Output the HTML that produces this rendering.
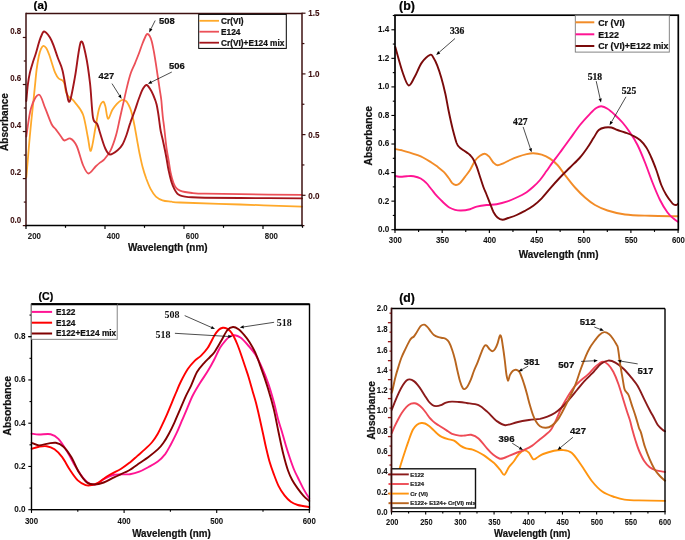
<!DOCTYPE html>
<html><head><meta charset="utf-8"><style>
html,body{margin:0;padding:0;background:#fff;}
body{width:685px;height:540px;overflow:hidden;font-family:"Liberation Sans",sans-serif;}
svg{display:block;will-change:transform;}
</style></head><body>
<svg width="685" height="540" viewBox="0 0 685 540">
<rect x="0" y="0" width="685" height="540" fill="#fff"/>
<path d="M26.3,177.5 C26.7,172.6 28.0,157.6 28.8,148.0 C29.6,138.4 30.6,128.1 31.4,120.0 C32.2,111.9 33.0,105.2 33.6,99.3 C34.2,93.4 34.6,89.4 35.1,84.4 C35.6,79.5 36.0,74.3 36.6,69.6 C37.2,64.9 38.1,59.8 38.8,56.3 C39.5,52.8 40.2,50.6 41.0,48.9 C41.8,47.2 42.4,46.0 43.3,45.9 C44.2,45.8 45.2,46.6 46.2,48.1 C47.2,49.6 48.2,52.2 49.2,54.8 C50.2,57.4 51.1,60.7 52.1,63.7 C53.1,66.7 54.0,70.1 55.1,72.6 C56.2,75.1 57.5,77.2 58.7,78.5 C59.9,79.8 61.4,79.5 62.4,80.4 C63.4,81.3 63.9,82.0 64.5,84.0 C65.1,86.0 65.4,90.3 66.1,92.4 C66.8,94.5 67.6,95.4 68.5,96.5 C69.4,97.6 70.6,97.9 71.7,98.9 C72.8,99.9 73.1,99.9 75.0,102.5 C76.9,105.1 80.9,108.8 83.0,114.5 C85.1,120.2 86.4,130.5 87.7,136.5 C89.0,142.5 89.6,152.3 90.9,150.7 C92.2,149.1 94.2,133.9 95.6,127.0 C96.9,120.0 97.8,113.2 99.0,109.0 C100.2,104.8 101.8,102.2 102.8,101.7 C103.8,101.2 104.4,103.2 105.3,106.0 C106.2,108.8 106.8,118.1 108.0,118.7 C109.2,119.3 110.9,112.3 112.4,109.8 C113.9,107.3 115.4,105.5 116.9,103.9 C118.4,102.3 120.1,100.8 121.3,100.2 C122.5,99.6 123.3,99.8 124.3,100.2 C125.3,100.6 126.2,101.1 127.2,102.4 C128.2,103.8 129.3,106.1 130.2,108.3 C131.1,110.5 131.7,112.7 132.4,115.7 C133.1,118.7 133.8,121.8 134.6,126.1 C135.4,130.4 136.6,137.2 137.4,141.8 C138.2,146.4 138.7,149.5 139.6,153.7 C140.5,157.9 141.5,162.8 142.6,167.0 C143.7,171.2 145.0,175.1 146.3,178.8 C147.7,182.5 149.1,186.2 150.7,189.2 C152.3,192.2 153.9,194.8 155.9,196.6 C157.9,198.4 159.9,199.5 162.5,200.3 C165.1,201.2 168.5,201.3 171.4,201.7 C174.3,202.1 168.6,202.0 180.0,202.5 C191.4,203.0 219.7,203.8 240.0,204.5 C260.3,205.2 291.7,206.2 302.0,206.6" fill="none" stroke="#ffa92a" stroke-width="1.80" stroke-linejoin="round" stroke-linecap="round"/>
<path d="M26.3,136.5 C27.1,131.8 28.9,115.2 31.0,108.2 C33.1,101.2 36.5,94.6 38.9,94.6 C41.3,94.6 43.1,103.3 45.2,108.2 C47.3,113.1 49.7,120.4 51.5,124.0 C53.3,127.6 54.4,127.5 56.0,129.6 C57.6,131.7 59.6,134.7 61.0,136.5 C62.4,138.3 62.9,140.2 64.5,140.5 C66.1,140.8 68.5,137.7 70.5,138.6 C72.5,139.5 74.6,141.6 76.7,146.0 C78.8,150.4 81.0,160.4 83.0,165.0 C85.0,169.6 86.4,173.2 88.5,173.5 C90.6,173.8 93.7,168.3 95.6,166.5 C97.5,164.7 98.6,163.7 100.0,162.6 C101.4,161.5 102.2,161.8 104.0,159.7 C105.8,157.6 108.6,154.4 110.6,150.3 C112.6,146.2 114.6,140.3 116.1,135.0 C117.6,129.7 118.6,124.1 119.8,118.7 C121.0,113.3 122.3,107.8 123.5,102.4 C124.7,97.0 126.0,91.0 127.2,86.1 C128.4,81.2 129.6,76.6 130.9,72.8 C132.2,69.0 133.7,66.5 135.0,63.3 C136.3,60.0 137.8,56.5 139.0,53.3 C140.2,50.1 141.2,46.9 142.3,44.0 C143.4,41.1 144.9,37.7 145.7,36.0 C146.5,34.3 146.6,34.0 147.3,34.0 C148.0,34.0 149.0,34.8 149.7,36.0 C150.4,37.2 151.0,38.8 151.7,41.3 C152.4,43.8 153.0,47.1 153.7,50.7 C154.4,54.3 155.0,58.5 155.7,62.7 C156.4,66.9 157.0,71.6 157.7,76.0 C158.4,80.4 159.1,85.3 159.7,89.3 C160.3,93.3 160.9,96.7 161.3,100.0 C161.7,103.3 161.8,106.2 162.1,109.3 C162.4,112.4 162.6,115.3 163.0,118.5 C163.4,121.7 163.9,125.0 164.3,128.5 C164.7,132.0 165.1,135.9 165.5,139.5 C165.9,143.1 166.3,146.7 166.8,150.0 C167.3,153.3 167.8,155.8 168.5,159.6 C169.2,163.4 169.8,168.9 170.7,172.9 C171.5,176.9 172.6,180.7 173.6,183.3 C174.6,185.9 175.5,187.2 176.6,188.4 C177.7,189.6 178.6,190.0 180.0,190.6 C181.4,191.2 183.0,191.6 185.0,192.0 C187.0,192.4 188.7,192.7 192.0,193.0 C195.3,193.3 197.0,193.5 205.0,193.7 C213.0,193.9 223.8,194.0 240.0,194.2 C256.2,194.4 291.7,194.8 302.0,194.9" fill="none" stroke="#ec5058" stroke-width="1.80" stroke-linejoin="round" stroke-linecap="round"/>
<path d="M26.3,101.0 C26.6,98.3 27.2,89.7 27.8,85.0 C28.4,80.3 29.0,76.4 29.9,72.6 C30.8,68.8 31.9,65.4 32.9,62.2 C33.9,59.0 34.9,56.5 35.9,53.3 C36.9,50.1 37.9,46.0 38.8,43.0 C39.7,40.0 40.5,37.4 41.5,35.5 C42.5,33.6 42.9,30.9 44.6,31.7 C46.3,32.5 49.3,36.1 51.5,40.5 C53.7,44.9 56.0,52.8 57.8,57.8 C59.6,62.8 61.0,64.6 62.5,70.4 C64.0,76.2 65.4,87.2 66.6,92.4 C67.8,97.6 68.4,103.9 69.8,101.3 C71.2,98.7 73.2,86.6 75.0,76.7 C76.8,66.8 79.0,45.4 80.8,42.0 C82.6,38.6 84.5,49.4 86.0,56.2 C87.5,63.0 88.8,72.8 90.0,83.0 C91.2,93.2 91.8,110.8 93.0,117.6 C94.2,124.4 96.0,121.5 97.2,124.0 C98.4,126.5 98.7,128.6 100.0,132.7 C101.3,136.8 103.6,144.9 105.3,148.5 C107.0,152.1 107.9,154.2 109.9,154.5 C112.0,154.8 115.5,152.0 117.6,150.3 C119.7,148.6 121.0,147.1 122.5,144.5 C124.0,141.9 125.2,138.6 126.5,135.0 C127.8,131.4 128.8,127.0 130.2,123.1 C131.5,119.1 133.1,115.5 134.6,111.3 C136.1,107.1 137.7,101.7 139.1,98.0 C140.5,94.3 141.5,91.3 142.8,89.1 C144.1,86.9 145.2,84.6 146.7,85.0 C148.2,85.4 150.3,89.2 151.7,91.7 C153.1,94.2 154.4,97.8 155.2,100.0 C156.0,102.2 156.1,102.6 156.6,104.6 C157.1,106.6 157.5,109.1 158.0,112.0 C158.5,114.9 159.0,118.8 159.4,122.0 C159.8,125.2 160.1,128.0 160.7,131.0 C161.3,134.0 162.1,136.8 162.8,140.0 C163.5,143.2 164.2,146.7 164.9,150.0 C165.6,153.3 166.2,156.7 166.8,160.0 C167.4,163.3 167.7,166.3 168.5,169.9 C169.3,173.5 170.4,178.6 171.4,181.8 C172.4,185.0 173.4,187.2 174.4,189.2 C175.4,191.2 176.4,192.6 177.3,193.6 C178.2,194.6 178.7,194.8 180.0,195.3 C181.3,195.8 183.0,196.3 185.0,196.6 C187.0,196.9 188.7,197.1 192.0,197.3 C195.3,197.5 197.0,197.6 205.0,197.7 C213.0,197.8 223.8,197.9 240.0,198.0 C256.2,198.1 291.7,198.3 302.0,198.4" fill="none" stroke="#a3151b" stroke-width="1.90" stroke-linejoin="round" stroke-linecap="round"/>
<line x1="26.00" y1="13.50" x2="302.00" y2="13.50" stroke="#3e1010" stroke-width="1.50" stroke-linecap="butt"/>
<line x1="26.00" y1="12.80" x2="26.00" y2="226.30" stroke="#3e1010" stroke-width="1.50" stroke-linecap="butt"/>
<line x1="302.00" y1="12.80" x2="302.00" y2="226.30" stroke="#3e1010" stroke-width="1.50" stroke-linecap="butt"/>
<line x1="25.30" y1="225.60" x2="302.70" y2="225.60" stroke="#000" stroke-width="1.50" stroke-linecap="butt"/>
<line x1="22.80" y1="225.60" x2="26.00" y2="225.60" stroke="#3e1010" stroke-width="1.20" stroke-linecap="butt"/>
<line x1="23.80" y1="202.08" x2="26.00" y2="202.08" stroke="#3e1010" stroke-width="1.20" stroke-linecap="butt"/>
<line x1="22.80" y1="178.57" x2="26.00" y2="178.57" stroke="#3e1010" stroke-width="1.20" stroke-linecap="butt"/>
<line x1="23.80" y1="155.06" x2="26.00" y2="155.06" stroke="#3e1010" stroke-width="1.20" stroke-linecap="butt"/>
<line x1="22.80" y1="131.54" x2="26.00" y2="131.54" stroke="#3e1010" stroke-width="1.20" stroke-linecap="butt"/>
<line x1="23.80" y1="108.02" x2="26.00" y2="108.02" stroke="#3e1010" stroke-width="1.20" stroke-linecap="butt"/>
<line x1="22.80" y1="84.51" x2="26.00" y2="84.51" stroke="#3e1010" stroke-width="1.20" stroke-linecap="butt"/>
<line x1="23.80" y1="60.99" x2="26.00" y2="60.99" stroke="#3e1010" stroke-width="1.20" stroke-linecap="butt"/>
<line x1="22.80" y1="37.48" x2="26.00" y2="37.48" stroke="#3e1010" stroke-width="1.20" stroke-linecap="butt"/>
<text x="21.20" y="222.50" font-family="Liberation Sans" font-size="9.20" font-weight="bold" fill="#3e1010" text-anchor="end"  stroke="#3e1010" stroke-width="0.10" textLength="11.00" lengthAdjust="spacingAndGlyphs">0.0</text>
<text x="21.20" y="175.47" font-family="Liberation Sans" font-size="9.20" font-weight="bold" fill="#3e1010" text-anchor="end"  stroke="#3e1010" stroke-width="0.10" textLength="11.00" lengthAdjust="spacingAndGlyphs">0.2</text>
<text x="21.20" y="128.44" font-family="Liberation Sans" font-size="9.20" font-weight="bold" fill="#3e1010" text-anchor="end"  stroke="#3e1010" stroke-width="0.10" textLength="11.00" lengthAdjust="spacingAndGlyphs">0.4</text>
<text x="21.20" y="81.41" font-family="Liberation Sans" font-size="9.20" font-weight="bold" fill="#3e1010" text-anchor="end"  stroke="#3e1010" stroke-width="0.10" textLength="11.00" lengthAdjust="spacingAndGlyphs">0.6</text>
<text x="21.20" y="34.38" font-family="Liberation Sans" font-size="9.20" font-weight="bold" fill="#3e1010" text-anchor="end"  stroke="#3e1010" stroke-width="0.10" textLength="11.00" lengthAdjust="spacingAndGlyphs">0.8</text>
<line x1="302.00" y1="195.30" x2="305.50" y2="195.30" stroke="#3e1010" stroke-width="1.20" stroke-linecap="butt"/>
<line x1="302.00" y1="164.95" x2="304.40" y2="164.95" stroke="#3e1010" stroke-width="1.20" stroke-linecap="butt"/>
<line x1="302.00" y1="134.60" x2="305.50" y2="134.60" stroke="#3e1010" stroke-width="1.20" stroke-linecap="butt"/>
<line x1="302.00" y1="104.25" x2="304.40" y2="104.25" stroke="#3e1010" stroke-width="1.20" stroke-linecap="butt"/>
<line x1="302.00" y1="73.90" x2="305.50" y2="73.90" stroke="#3e1010" stroke-width="1.20" stroke-linecap="butt"/>
<line x1="302.00" y1="43.55" x2="304.40" y2="43.55" stroke="#3e1010" stroke-width="1.20" stroke-linecap="butt"/>
<line x1="302.00" y1="13.20" x2="305.50" y2="13.20" stroke="#3e1010" stroke-width="1.20" stroke-linecap="butt"/>
<line x1="302.00" y1="225.60" x2="304.40" y2="225.60" stroke="#3e1010" stroke-width="1.20" stroke-linecap="butt"/>
<text x="308.30" y="198.50" font-family="Liberation Sans" font-size="8.80" font-weight="bold" fill="#3e1010" text-anchor="start"  stroke="#3e1010" stroke-width="0.10" textLength="11.20" lengthAdjust="spacingAndGlyphs">0.0</text>
<text x="308.30" y="137.80" font-family="Liberation Sans" font-size="8.80" font-weight="bold" fill="#3e1010" text-anchor="start"  stroke="#3e1010" stroke-width="0.10" textLength="11.20" lengthAdjust="spacingAndGlyphs">0.5</text>
<text x="308.30" y="77.10" font-family="Liberation Sans" font-size="8.80" font-weight="bold" fill="#3e1010" text-anchor="start"  stroke="#3e1010" stroke-width="0.10" textLength="11.20" lengthAdjust="spacingAndGlyphs">1.0</text>
<text x="308.30" y="16.40" font-family="Liberation Sans" font-size="8.80" font-weight="bold" fill="#3e1010" text-anchor="start"  stroke="#3e1010" stroke-width="0.10" textLength="11.20" lengthAdjust="spacingAndGlyphs">1.5</text>
<line x1="26.00" y1="225.60" x2="26.00" y2="229.10" stroke="#000" stroke-width="1.20" stroke-linecap="butt"/>
<line x1="65.50" y1="225.60" x2="65.50" y2="227.80" stroke="#000" stroke-width="1.20" stroke-linecap="butt"/>
<line x1="105.00" y1="225.60" x2="105.00" y2="229.10" stroke="#000" stroke-width="1.20" stroke-linecap="butt"/>
<line x1="144.50" y1="225.60" x2="144.50" y2="227.80" stroke="#000" stroke-width="1.20" stroke-linecap="butt"/>
<line x1="184.00" y1="225.60" x2="184.00" y2="229.10" stroke="#000" stroke-width="1.20" stroke-linecap="butt"/>
<line x1="223.50" y1="225.60" x2="223.50" y2="227.80" stroke="#000" stroke-width="1.20" stroke-linecap="butt"/>
<line x1="263.00" y1="225.60" x2="263.00" y2="229.10" stroke="#000" stroke-width="1.20" stroke-linecap="butt"/>
<line x1="302.50" y1="225.60" x2="302.50" y2="227.80" stroke="#000" stroke-width="1.20" stroke-linecap="butt"/>
<text x="34.40" y="238.70" font-family="Liberation Sans" font-size="8.90" font-weight="bold" fill="#222" text-anchor="middle"  stroke="#222" stroke-width="0.10" textLength="13.10" lengthAdjust="spacingAndGlyphs">200</text>
<text x="113.40" y="238.70" font-family="Liberation Sans" font-size="8.90" font-weight="bold" fill="#222" text-anchor="middle"  stroke="#222" stroke-width="0.10" textLength="13.10" lengthAdjust="spacingAndGlyphs">400</text>
<text x="192.40" y="238.70" font-family="Liberation Sans" font-size="8.90" font-weight="bold" fill="#222" text-anchor="middle"  stroke="#222" stroke-width="0.10" textLength="13.10" lengthAdjust="spacingAndGlyphs">600</text>
<text x="271.40" y="238.70" font-family="Liberation Sans" font-size="8.90" font-weight="bold" fill="#222" text-anchor="middle"  stroke="#222" stroke-width="0.10" textLength="13.10" lengthAdjust="spacingAndGlyphs">800</text>
<text x="33.60" y="8.60" font-family="Liberation Sans" font-size="11.50" font-weight="bold" fill="#000" text-anchor="start"  stroke="#000" stroke-width="0.22">(a)</text>
<text x="0" y="0" transform="translate(4.60,122.00) rotate(-90)" font-family="Liberation Sans" font-size="10.00" font-weight="bold" fill="#111" stroke="#111" stroke-width="0.22" text-anchor="middle" dominant-baseline="central">Absorbance</text>
<text x="167.80" y="250.50" font-family="Liberation Sans" font-size="10.50" font-weight="bold" fill="#111" text-anchor="middle"  stroke="#111" stroke-width="0.22" textLength="79.40" lengthAdjust="spacingAndGlyphs">Wavelength (nm)</text>
<rect x="198.70" y="14.40" width="87.60" height="34.00" fill="#fff" stroke="#000" stroke-width="1.00"/>
<line x1="199.30" y1="20.80" x2="219.00" y2="20.80" stroke="#ffa92a" stroke-width="1.80" stroke-linecap="butt"/>
<text x="221.00" y="23.70" font-family="Liberation Sans" font-size="8.30" font-weight="bold" fill="#111" text-anchor="start"  stroke="#111" stroke-width="0.22">Cr(VI)</text>
<line x1="199.30" y1="31.70" x2="219.00" y2="31.70" stroke="#ec5058" stroke-width="1.80" stroke-linecap="butt"/>
<text x="221.00" y="34.60" font-family="Liberation Sans" font-size="8.30" font-weight="bold" fill="#111" text-anchor="start"  stroke="#111" stroke-width="0.22">E124</text>
<line x1="199.30" y1="42.70" x2="219.00" y2="42.70" stroke="#a3151b" stroke-width="1.80" stroke-linecap="butt"/>
<text x="221.00" y="45.60" font-family="Liberation Sans" font-size="8.30" font-weight="bold" fill="#111" text-anchor="start"  stroke="#111" stroke-width="0.22">Cr(VI)+E124 mix</text>
<text x="166.80" y="24.00" font-family="Liberation Sans" font-size="9.40" font-weight="bold" fill="#111" text-anchor="middle"  stroke="#111" stroke-width="0.22">508</text>
<text x="106.40" y="79.40" font-family="Liberation Sans" font-size="9.40" font-weight="bold" fill="#111" text-anchor="middle"  stroke="#111" stroke-width="0.22">427</text>
<text x="176.80" y="69.00" font-family="Liberation Sans" font-size="9.40" font-weight="bold" fill="#111" text-anchor="middle"  stroke="#111" stroke-width="0.22">506</text>
<line x1="155.20" y1="20.50" x2="151.00" y2="28.83" stroke="#000" stroke-width="0.70" stroke-linecap="butt"/>
<path d="M149.20,32.40 L149.57,28.11 L152.43,29.55 Z" fill="#000"/>
<line x1="112.00" y1="83.60" x2="119.46" y2="95.42" stroke="#000" stroke-width="0.70" stroke-linecap="butt"/>
<path d="M121.60,98.80 L118.11,96.27 L120.82,94.56 Z" fill="#000"/>
<line x1="171.80" y1="72.00" x2="151.58" y2="82.02" stroke="#000" stroke-width="0.70" stroke-linecap="butt"/>
<path d="M148.00,83.80 L150.87,80.59 L152.29,83.46 Z" fill="#000"/>
<path d="M395.2,149.0 C396.3,149.2 399.7,149.8 402.0,150.3 C404.3,150.9 406.7,151.6 409.0,152.3 C411.3,153.0 413.7,153.7 416.0,154.6 C418.3,155.5 420.7,156.3 423.0,157.5 C425.3,158.7 427.7,160.1 430.0,161.6 C432.3,163.1 434.7,164.6 437.0,166.3 C439.3,168.1 442.1,170.2 444.0,172.1 C445.9,174.0 447.3,176.2 448.7,178.0 C450.1,179.8 451.0,182.0 452.2,183.2 C453.4,184.4 454.5,184.9 455.7,185.0 C456.9,185.1 457.6,185.2 459.2,183.8 C460.8,182.4 463.2,179.1 465.0,176.8 C466.8,174.5 468.3,172.7 470.0,170.0 C471.7,167.3 473.3,163.2 475.0,160.8 C476.7,158.4 478.3,157.0 480.0,155.8 C481.7,154.6 483.5,153.5 485.0,153.7 C486.5,153.8 487.8,155.2 489.2,156.7 C490.6,158.2 491.9,161.1 493.3,162.5 C494.7,163.9 495.8,165.2 497.5,165.3 C499.2,165.4 501.2,164.2 503.3,163.3 C505.4,162.4 507.5,161.1 510.0,160.0 C512.5,158.9 515.5,157.7 518.3,156.7 C521.1,155.7 524.2,154.8 526.7,154.2 C529.2,153.6 530.8,153.2 533.3,153.3 C535.8,153.4 538.9,153.8 541.7,154.7 C544.5,155.6 547.4,156.9 550.0,158.6 C552.6,160.3 555.0,162.3 557.5,165.0 C560.0,167.7 562.1,171.2 565.0,175.0 C567.9,178.8 571.7,183.8 575.0,187.5 C578.3,191.2 581.7,194.6 585.0,197.5 C588.3,200.4 591.2,202.8 595.0,205.0 C598.8,207.2 602.5,208.9 607.5,210.5 C612.5,212.1 617.9,213.6 625.0,214.5 C632.1,215.4 641.1,215.5 650.0,215.8 C658.9,216.1 673.5,216.2 678.2,216.3" fill="none" stroke="#f28c28" stroke-width="1.90" stroke-linejoin="round" stroke-linecap="round"/>
<path d="M395.2,176.0 C396.1,176.1 398.9,176.8 400.8,176.8 C402.7,176.8 404.6,176.3 406.7,176.2 C408.8,176.1 411.4,175.8 413.7,176.2 C416.0,176.6 418.6,177.3 420.7,178.5 C422.8,179.7 424.8,181.4 426.5,183.2 C428.2,184.9 429.6,187.1 431.2,189.0 C432.8,190.9 434.3,193.1 435.9,194.9 C437.4,196.7 439.0,198.1 440.5,199.6 C442.0,201.1 443.5,202.7 445.0,204.0 C446.5,205.3 447.6,206.5 449.3,207.5 C451.0,208.5 453.1,209.3 455.0,209.8 C456.9,210.3 458.5,210.6 461.0,210.5 C463.5,210.4 467.4,209.8 470.0,209.2 C472.6,208.6 473.9,207.4 476.7,206.7 C479.5,206.0 483.4,205.4 486.7,205.0 C490.0,204.6 493.4,204.8 496.7,204.2 C500.0,203.6 503.4,202.8 506.7,201.7 C510.0,200.6 513.7,198.9 516.7,197.5 C519.8,196.1 522.2,195.1 525.0,193.3 C527.8,191.5 530.8,188.9 533.3,186.7 C535.8,184.5 537.8,182.7 540.0,180.0 C542.2,177.3 545.0,173.1 546.7,170.8 C548.4,168.5 547.8,169.1 550.0,166.0 C552.2,162.9 556.7,157.0 560.0,152.5 C563.3,148.0 566.7,143.4 570.0,138.8 C573.3,134.2 576.7,129.2 580.0,125.0 C583.3,120.8 587.3,116.6 590.0,113.8 C592.7,111.0 594.4,109.2 596.3,108.0 C598.2,106.8 599.4,106.2 601.3,106.3 C603.2,106.4 605.2,107.3 607.5,108.8 C609.8,110.2 612.5,112.7 615.0,115.0 C617.5,117.3 620.0,119.6 622.5,122.5 C625.0,125.4 627.5,128.8 630.0,132.5 C632.5,136.2 635.0,140.0 637.5,145.0 C640.0,150.0 642.5,156.2 645.0,162.5 C647.5,168.8 650.0,176.2 652.5,182.5 C655.0,188.8 657.5,195.0 660.0,200.0 C662.5,205.0 665.2,209.4 667.5,212.5 C669.8,215.6 672.0,217.2 673.8,218.8 C675.6,220.4 677.5,221.5 678.2,222.0" fill="none" stroke="#ff1493" stroke-width="1.90" stroke-linejoin="round" stroke-linecap="round"/>
<path d="M395.3,47.0 C396.5,51.2 400.4,65.8 402.6,72.2 C404.8,78.6 406.6,84.6 408.6,85.4 C410.6,86.2 412.4,80.8 414.6,77.0 C416.8,73.2 419.2,66.3 421.8,62.6 C424.4,58.9 428.2,55.6 430.1,54.8 C432.0,53.9 432.1,55.7 433.3,57.5 C434.5,59.3 435.9,62.0 437.2,65.4 C438.5,68.8 439.9,72.9 441.3,77.7 C442.7,82.5 444.2,88.6 445.4,94.0 C446.6,99.4 447.3,104.5 448.5,110.3 C449.7,116.1 451.2,123.2 452.6,128.7 C454.0,134.1 455.5,139.9 456.6,143.0 C457.8,146.1 458.4,146.1 459.5,147.3 C460.6,148.5 461.6,149.0 463.0,150.0 C464.4,151.0 466.7,152.4 467.9,153.2 C469.1,154.0 469.1,154.0 470.0,155.0 C470.9,156.0 472.2,157.2 473.3,159.2 C474.4,161.1 475.6,163.8 476.7,166.7 C477.8,169.6 478.9,173.4 480.0,176.7 C481.1,180.0 482.2,183.6 483.3,186.7 C484.4,189.8 485.6,192.2 486.7,195.0 C487.8,197.8 488.9,200.5 490.0,203.3 C491.1,206.1 492.1,209.3 493.3,211.7 C494.6,214.1 496.0,216.2 497.5,217.5 C499.0,218.8 500.7,219.6 502.5,219.7 C504.3,219.8 505.9,218.8 508.3,218.0 C510.7,217.2 513.9,216.2 516.7,215.0 C519.5,213.8 522.2,212.3 525.0,210.8 C527.8,209.3 530.5,207.9 533.3,205.8 C536.1,203.7 538.9,201.2 541.7,198.3 C544.5,195.4 547.0,192.1 550.0,188.6 C553.0,185.1 556.7,181.0 560.0,177.5 C563.3,174.0 566.7,170.8 570.0,167.5 C573.3,164.2 577.1,160.8 580.0,157.5 C582.9,154.2 585.2,150.8 587.5,147.5 C589.8,144.2 591.9,140.4 593.8,137.5 C595.7,134.6 596.9,131.7 598.8,130.0 C600.7,128.3 602.9,127.9 605.0,127.5 C607.1,127.1 609.2,127.1 611.3,127.5 C613.4,127.9 615.2,129.2 617.5,130.0 C619.8,130.8 622.5,131.6 625.0,132.5 C627.5,133.4 630.0,134.2 632.5,135.5 C635.0,136.8 637.7,138.0 640.0,140.0 C642.3,142.0 644.4,144.6 646.3,147.5 C648.2,150.4 649.6,153.8 651.3,157.5 C653.0,161.2 654.6,165.4 656.3,170.0 C658.0,174.6 659.6,180.8 661.3,185.0 C663.0,189.2 664.6,192.2 666.3,195.0 C668.0,197.8 670.0,200.4 671.3,202.0 C672.5,203.6 673.0,204.0 673.8,204.5 C674.6,205.0 675.6,205.1 676.3,205.0 C677.0,204.9 677.7,204.0 678.0,203.8" fill="none" stroke="#7a0a0a" stroke-width="1.90" stroke-linejoin="round" stroke-linecap="round"/>
<rect x="395.00" y="15.20" width="283.30" height="214.50" fill="none" stroke="#000" stroke-width="1.70"/>
<line x1="391.40" y1="229.70" x2="395.00" y2="229.70" stroke="#000" stroke-width="1.10" stroke-linecap="butt"/>
<line x1="392.80" y1="215.42" x2="395.00" y2="215.42" stroke="#000" stroke-width="1.10" stroke-linecap="butt"/>
<line x1="391.40" y1="201.14" x2="395.00" y2="201.14" stroke="#000" stroke-width="1.10" stroke-linecap="butt"/>
<line x1="392.80" y1="186.86" x2="395.00" y2="186.86" stroke="#000" stroke-width="1.10" stroke-linecap="butt"/>
<line x1="391.40" y1="172.58" x2="395.00" y2="172.58" stroke="#000" stroke-width="1.10" stroke-linecap="butt"/>
<line x1="392.80" y1="158.30" x2="395.00" y2="158.30" stroke="#000" stroke-width="1.10" stroke-linecap="butt"/>
<line x1="391.40" y1="144.02" x2="395.00" y2="144.02" stroke="#000" stroke-width="1.10" stroke-linecap="butt"/>
<line x1="392.80" y1="129.74" x2="395.00" y2="129.74" stroke="#000" stroke-width="1.10" stroke-linecap="butt"/>
<line x1="391.40" y1="115.46" x2="395.00" y2="115.46" stroke="#000" stroke-width="1.10" stroke-linecap="butt"/>
<line x1="392.80" y1="101.18" x2="395.00" y2="101.18" stroke="#000" stroke-width="1.10" stroke-linecap="butt"/>
<line x1="391.40" y1="86.90" x2="395.00" y2="86.90" stroke="#000" stroke-width="1.10" stroke-linecap="butt"/>
<line x1="392.80" y1="72.62" x2="395.00" y2="72.62" stroke="#000" stroke-width="1.10" stroke-linecap="butt"/>
<line x1="391.40" y1="58.34" x2="395.00" y2="58.34" stroke="#000" stroke-width="1.10" stroke-linecap="butt"/>
<line x1="392.80" y1="44.06" x2="395.00" y2="44.06" stroke="#000" stroke-width="1.10" stroke-linecap="butt"/>
<line x1="391.40" y1="29.78" x2="395.00" y2="29.78" stroke="#000" stroke-width="1.10" stroke-linecap="butt"/>
<line x1="392.80" y1="15.50" x2="395.00" y2="15.50" stroke="#000" stroke-width="1.10" stroke-linecap="butt"/>
<text x="389.20" y="232.10" font-family="Liberation Sans" font-size="8.90" font-weight="bold" fill="#111" text-anchor="end"  stroke="#111" stroke-width="0.05" textLength="11.30" lengthAdjust="spacingAndGlyphs">0.0</text>
<text x="389.20" y="203.54" font-family="Liberation Sans" font-size="8.90" font-weight="bold" fill="#111" text-anchor="end"  stroke="#111" stroke-width="0.05" textLength="11.30" lengthAdjust="spacingAndGlyphs">0.2</text>
<text x="389.20" y="174.98" font-family="Liberation Sans" font-size="8.90" font-weight="bold" fill="#111" text-anchor="end"  stroke="#111" stroke-width="0.05" textLength="11.30" lengthAdjust="spacingAndGlyphs">0.4</text>
<text x="389.20" y="146.42" font-family="Liberation Sans" font-size="8.90" font-weight="bold" fill="#111" text-anchor="end"  stroke="#111" stroke-width="0.05" textLength="11.30" lengthAdjust="spacingAndGlyphs">0.6</text>
<text x="389.20" y="117.86" font-family="Liberation Sans" font-size="8.90" font-weight="bold" fill="#111" text-anchor="end"  stroke="#111" stroke-width="0.05" textLength="11.30" lengthAdjust="spacingAndGlyphs">0.8</text>
<text x="389.20" y="89.30" font-family="Liberation Sans" font-size="8.90" font-weight="bold" fill="#111" text-anchor="end"  stroke="#111" stroke-width="0.05" textLength="11.30" lengthAdjust="spacingAndGlyphs">1.0</text>
<text x="389.20" y="60.74" font-family="Liberation Sans" font-size="8.90" font-weight="bold" fill="#111" text-anchor="end"  stroke="#111" stroke-width="0.05" textLength="11.30" lengthAdjust="spacingAndGlyphs">1.2</text>
<text x="389.20" y="32.18" font-family="Liberation Sans" font-size="8.90" font-weight="bold" fill="#111" text-anchor="end"  stroke="#111" stroke-width="0.05" textLength="11.30" lengthAdjust="spacingAndGlyphs">1.4</text>
<line x1="395.00" y1="229.70" x2="395.00" y2="233.10" stroke="#000" stroke-width="1.10" stroke-linecap="butt"/>
<line x1="418.59" y1="229.70" x2="418.59" y2="231.90" stroke="#000" stroke-width="1.10" stroke-linecap="butt"/>
<line x1="442.18" y1="229.70" x2="442.18" y2="233.10" stroke="#000" stroke-width="1.10" stroke-linecap="butt"/>
<line x1="465.77" y1="229.70" x2="465.77" y2="231.90" stroke="#000" stroke-width="1.10" stroke-linecap="butt"/>
<line x1="489.36" y1="229.70" x2="489.36" y2="233.10" stroke="#000" stroke-width="1.10" stroke-linecap="butt"/>
<line x1="512.95" y1="229.70" x2="512.95" y2="231.90" stroke="#000" stroke-width="1.10" stroke-linecap="butt"/>
<line x1="536.54" y1="229.70" x2="536.54" y2="233.10" stroke="#000" stroke-width="1.10" stroke-linecap="butt"/>
<line x1="560.13" y1="229.70" x2="560.13" y2="231.90" stroke="#000" stroke-width="1.10" stroke-linecap="butt"/>
<line x1="583.72" y1="229.70" x2="583.72" y2="233.10" stroke="#000" stroke-width="1.10" stroke-linecap="butt"/>
<line x1="607.31" y1="229.70" x2="607.31" y2="231.90" stroke="#000" stroke-width="1.10" stroke-linecap="butt"/>
<line x1="630.90" y1="229.70" x2="630.90" y2="233.10" stroke="#000" stroke-width="1.10" stroke-linecap="butt"/>
<line x1="654.49" y1="229.70" x2="654.49" y2="231.90" stroke="#000" stroke-width="1.10" stroke-linecap="butt"/>
<line x1="678.08" y1="229.70" x2="678.08" y2="233.10" stroke="#000" stroke-width="1.10" stroke-linecap="butt"/>
<text x="395.30" y="243.30" font-family="Liberation Sans" font-size="8.90" font-weight="bold" fill="#111" text-anchor="middle"  stroke="#111" stroke-width="0.05" textLength="13.00" lengthAdjust="spacingAndGlyphs">300</text>
<text x="442.48" y="243.30" font-family="Liberation Sans" font-size="8.90" font-weight="bold" fill="#111" text-anchor="middle"  stroke="#111" stroke-width="0.05" textLength="13.00" lengthAdjust="spacingAndGlyphs">350</text>
<text x="489.66" y="243.30" font-family="Liberation Sans" font-size="8.90" font-weight="bold" fill="#111" text-anchor="middle"  stroke="#111" stroke-width="0.05" textLength="13.00" lengthAdjust="spacingAndGlyphs">400</text>
<text x="536.84" y="243.30" font-family="Liberation Sans" font-size="8.90" font-weight="bold" fill="#111" text-anchor="middle"  stroke="#111" stroke-width="0.05" textLength="13.00" lengthAdjust="spacingAndGlyphs">450</text>
<text x="584.02" y="243.30" font-family="Liberation Sans" font-size="8.90" font-weight="bold" fill="#111" text-anchor="middle"  stroke="#111" stroke-width="0.05" textLength="13.00" lengthAdjust="spacingAndGlyphs">500</text>
<text x="631.20" y="243.30" font-family="Liberation Sans" font-size="8.90" font-weight="bold" fill="#111" text-anchor="middle"  stroke="#111" stroke-width="0.05" textLength="13.00" lengthAdjust="spacingAndGlyphs">550</text>
<text x="678.38" y="243.30" font-family="Liberation Sans" font-size="8.90" font-weight="bold" fill="#111" text-anchor="middle"  stroke="#111" stroke-width="0.05" textLength="13.00" lengthAdjust="spacingAndGlyphs">600</text>
<text x="399.00" y="10.20" font-family="Liberation Sans" font-size="12.40" font-weight="bold" fill="#000" text-anchor="start"  stroke="#000" stroke-width="0.22">(b)</text>
<text x="0" y="0" transform="translate(368.20,135.80) rotate(-90)" font-family="Liberation Sans" font-size="10.30" font-weight="bold" fill="#111" stroke="#111" stroke-width="0.22" text-anchor="middle" dominant-baseline="central">Absorbance</text>
<text x="558.60" y="258.40" font-family="Liberation Sans" font-size="10.50" font-weight="bold" fill="#111" text-anchor="middle"  stroke="#111" stroke-width="0.22" textLength="79.80" lengthAdjust="spacingAndGlyphs">Wavelength (nm)</text>
<rect x="575.30" y="15.40" width="94.00" height="36.70" fill="#fff" stroke="#777" stroke-width="0.90"/>
<line x1="575.50" y1="22.30" x2="594.30" y2="22.30" stroke="#f28c28" stroke-width="2.00" stroke-linecap="butt"/>
<text x="598.20" y="25.50" font-family="Liberation Sans" font-size="8.90" font-weight="bold" fill="#111" text-anchor="start"  stroke="#111" stroke-width="0.22">Cr (VI)</text>
<line x1="575.50" y1="34.30" x2="594.30" y2="34.30" stroke="#ff1493" stroke-width="2.00" stroke-linecap="butt"/>
<text x="598.20" y="37.50" font-family="Liberation Sans" font-size="8.90" font-weight="bold" fill="#111" text-anchor="start"  stroke="#111" stroke-width="0.22">E122</text>
<line x1="575.50" y1="46.00" x2="594.30" y2="46.00" stroke="#7a0a0a" stroke-width="2.00" stroke-linecap="butt"/>
<text x="598.20" y="49.20" font-family="Liberation Sans" font-size="8.90" font-weight="bold" fill="#111" text-anchor="start"  stroke="#111" stroke-width="0.22">Cr (VI)+E122 mix</text>
<text x="457.10" y="34.20" font-family="Liberation Serif" font-size="9.60" font-weight="bold" fill="#111" text-anchor="middle"  stroke="#111" stroke-width="0.22">336</text>
<text x="520.30" y="125.00" font-family="Liberation Serif" font-size="9.60" font-weight="bold" fill="#111" text-anchor="middle"  stroke="#111" stroke-width="0.22">427</text>
<text x="594.90" y="79.70" font-family="Liberation Serif" font-size="9.60" font-weight="bold" fill="#111" text-anchor="middle"  stroke="#111" stroke-width="0.22">518</text>
<text x="629.00" y="94.00" font-family="Liberation Serif" font-size="9.60" font-weight="bold" fill="#111" text-anchor="middle"  stroke="#111" stroke-width="0.22">525</text>
<line x1="455.00" y1="38.50" x2="439.21" y2="52.27" stroke="#000" stroke-width="0.70" stroke-linecap="butt"/>
<path d="M436.20,54.90 L438.16,51.06 L440.27,53.48 Z" fill="#000"/>
<line x1="523.10" y1="126.90" x2="530.33" y2="148.41" stroke="#000" stroke-width="0.70" stroke-linecap="butt"/>
<path d="M531.60,152.20 L528.81,148.92 L531.84,147.90 Z" fill="#000"/>
<line x1="596.20" y1="81.10" x2="600.12" y2="98.60" stroke="#000" stroke-width="0.70" stroke-linecap="butt"/>
<path d="M601.00,102.50 L598.56,98.95 L601.69,98.25 Z" fill="#000"/>
<line x1="626.00" y1="96.80" x2="611.60" y2="121.74" stroke="#000" stroke-width="0.70" stroke-linecap="butt"/>
<path d="M609.60,125.20 L610.21,120.94 L612.99,122.54 Z" fill="#000"/>
<path d="M31.6,433.7 C32.8,433.8 35.7,434.4 38.9,434.5 C42.1,434.6 47.4,433.5 50.6,434.2 C53.9,434.9 55.6,435.9 58.4,438.9 C61.2,441.8 64.6,447.4 67.4,451.9 C70.2,456.4 72.6,461.8 75.2,466.1 C77.8,470.4 80.6,474.9 83.0,477.8 C85.4,480.7 87.3,482.4 89.5,483.5 C91.7,484.6 93.6,485.0 96.0,484.3 C98.4,483.6 100.7,480.7 103.7,479.1 C106.7,477.5 110.6,475.6 114.1,474.8 C117.6,474.0 121.8,474.5 124.5,474.4 C127.2,474.3 127.5,474.6 130.0,474.2 C132.5,473.8 136.2,472.9 139.3,471.7 C142.4,470.5 145.4,468.7 148.5,467.0 C151.6,465.3 155.0,463.6 157.8,461.5 C160.6,459.4 163.0,456.9 165.2,454.1 C167.3,451.3 168.8,448.2 170.7,444.8 C172.5,441.4 174.4,437.7 176.3,433.7 C178.2,429.7 180.1,425.0 181.9,420.7 C183.8,416.4 185.6,412.1 187.4,407.8 C189.2,403.5 190.9,399.1 193.0,395.0 C195.1,390.9 197.5,387.0 200.0,383.0 C202.5,379.0 205.5,374.9 207.8,371.1 C210.1,367.3 212.0,363.9 214.0,360.0 C216.0,356.1 218.1,351.1 220.0,347.8 C221.9,344.5 223.9,342.3 225.6,340.4 C227.3,338.5 228.7,337.2 230.2,336.3 C231.7,335.4 233.1,335.0 234.8,335.2 C236.5,335.4 238.2,336.0 240.4,337.6 C242.6,339.2 245.3,342.2 247.8,345.0 C250.3,347.8 252.7,350.3 255.2,354.3 C257.7,358.3 260.5,364.3 262.6,369.1 C264.8,373.9 266.2,377.6 268.1,383.0 C270.0,388.4 272.0,395.3 273.7,401.5 C275.4,407.7 276.9,414.9 278.3,420.0 C279.7,425.1 280.8,427.8 282.0,432.0 C283.2,436.2 284.4,440.6 285.7,445.0 C287.0,449.4 288.6,454.4 290.0,458.5 C291.4,462.6 292.7,466.3 294.0,469.5 C295.3,472.7 296.2,474.3 297.8,477.5 C299.4,480.7 301.4,485.1 303.3,488.6 C305.2,492.1 308.2,496.7 309.2,498.3" fill="none" stroke="#ff1493" stroke-width="1.90" stroke-linejoin="round" stroke-linecap="round"/>
<path d="M31.6,448.8 C32.8,448.4 36.4,447.1 38.9,446.7 C41.4,446.3 44.1,445.8 46.7,446.2 C49.3,446.6 51.9,447.5 54.5,449.3 C57.1,451.1 59.6,453.7 62.2,457.1 C64.8,460.6 67.4,466.1 70.0,470.0 C72.6,473.9 75.2,477.9 77.8,480.4 C80.4,482.9 83.2,484.3 85.6,485.1 C88.0,485.9 89.8,485.5 92.0,485.1 C94.2,484.7 95.7,484.1 98.5,482.5 C101.3,480.9 105.2,477.4 108.9,475.2 C112.6,472.9 117.3,471.1 120.8,469.0 C124.3,466.9 127.2,464.6 130.0,462.4 C132.8,460.2 134.9,458.1 137.4,455.9 C139.9,453.7 142.3,451.7 144.8,449.4 C147.3,447.1 150.0,444.6 152.2,442.0 C154.4,439.4 156.1,436.6 157.8,433.7 C159.5,430.8 160.9,427.6 162.4,424.4 C163.9,421.2 165.4,417.9 167.0,414.3 C168.6,410.8 170.1,406.8 171.7,403.1 C173.2,399.4 174.8,395.6 176.3,392.0 C177.8,388.4 179.0,385.3 180.9,381.5 C182.8,377.7 185.6,372.4 187.8,369.0 C190.1,365.6 192.2,363.3 194.4,361.1 C196.6,358.9 198.9,357.8 201.1,355.6 C203.3,353.4 205.6,351.1 207.8,347.8 C210.0,344.5 212.6,338.6 214.4,335.6 C216.2,332.6 217.4,331.1 218.8,329.8 C220.2,328.5 221.5,328.1 222.8,327.8 C224.1,327.6 225.3,327.8 226.5,328.3 C227.7,328.9 229.0,329.7 230.2,331.1 C231.4,332.5 232.7,334.4 233.9,336.7 C235.1,339.0 236.4,341.9 237.6,345.0 C238.8,348.1 240.1,351.6 241.3,355.2 C242.5,358.8 243.8,362.6 245.0,366.3 C246.2,370.0 247.5,373.4 248.7,377.4 C249.9,381.4 251.2,386.1 252.4,390.4 C253.6,394.7 254.9,398.5 256.1,403.3 C257.3,408.1 258.7,414.0 259.8,419.0 C260.9,424.0 262.0,428.8 263.0,433.5 C264.0,438.2 264.9,442.8 266.0,447.5 C267.1,452.2 268.2,457.1 269.5,461.5 C270.8,465.9 272.2,469.8 273.7,473.8 C275.2,477.9 276.7,482.2 278.5,485.8 C280.3,489.4 282.4,492.7 284.5,495.4 C286.6,498.1 288.6,500.2 290.8,501.8 C293.0,503.4 294.7,504.1 297.8,505.0 C300.9,505.9 307.3,506.7 309.2,507.0" fill="none" stroke="#ff0000" stroke-width="1.90" stroke-linejoin="round" stroke-linecap="round"/>
<path d="M31.6,442.8 C32.8,443.2 36.2,445.3 38.9,445.4 C41.6,445.5 45.2,444.0 48.0,443.6 C50.8,443.2 53.2,442.3 55.8,442.8 C58.4,443.3 60.9,444.3 63.5,446.7 C66.1,449.1 68.7,452.8 71.3,457.1 C73.9,461.4 76.5,468.4 79.1,472.6 C81.7,476.8 84.3,480.5 86.9,482.5 C89.5,484.5 91.9,484.5 94.7,484.5 C97.5,484.5 100.5,483.7 103.7,482.5 C106.9,481.3 110.6,479.0 114.1,477.3 C117.6,475.6 121.8,473.8 124.5,472.5 C127.2,471.2 127.5,471.3 130.0,469.8 C132.5,468.3 136.2,465.5 139.3,463.3 C142.4,461.1 145.4,459.2 148.5,456.9 C151.6,454.6 155.3,451.7 157.8,449.4 C160.3,447.1 161.5,445.6 163.3,443.0 C165.2,440.4 167.1,437.1 168.9,433.7 C170.8,430.3 172.6,426.6 174.4,422.6 C176.2,418.6 178.1,413.9 180.0,409.6 C181.9,405.3 183.8,400.7 185.6,396.7 C187.4,392.7 189.2,389.7 191.1,385.6 C193.0,381.5 194.9,375.7 197.0,372.0 C199.1,368.3 201.6,365.9 203.8,363.4 C206.0,360.9 208.2,358.9 210.0,357.0 C211.8,355.1 212.6,354.8 214.4,352.2 C216.2,349.6 218.9,344.8 221.1,341.1 C223.3,337.4 225.4,332.4 227.4,330.0 C229.4,327.6 231.2,327.1 233.0,327.0 C234.8,326.9 236.7,328.0 238.5,329.3 C240.3,330.6 242.2,332.7 244.1,334.8 C245.9,336.9 247.8,339.3 249.6,342.2 C251.4,345.1 253.5,348.7 255.2,352.4 C256.9,356.1 258.3,360.2 259.8,364.4 C261.3,368.6 262.8,372.8 264.4,377.4 C265.9,382.0 267.6,386.9 269.1,392.2 C270.7,397.4 272.1,402.3 273.7,408.9 C275.3,415.5 276.9,424.5 278.5,432.0 C280.1,439.5 281.7,447.6 283.3,454.0 C284.9,460.4 286.5,466.2 288.0,470.5 C289.5,474.8 290.6,477.0 292.2,480.0 C293.8,483.0 295.9,486.0 297.8,488.6 C299.7,491.2 301.4,493.5 303.3,495.6 C305.2,497.7 308.2,500.1 309.2,501.0" fill="none" stroke="#800000" stroke-width="1.90" stroke-linejoin="round" stroke-linecap="round"/>
<rect x="31.50" y="304.30" width="278.00" height="205.40" fill="none" stroke="#000" stroke-width="1.40"/>
<line x1="31.50" y1="304.30" x2="309.50" y2="304.30" stroke="#000" stroke-width="2.00" stroke-linecap="butt"/>
<line x1="28.30" y1="509.70" x2="31.50" y2="509.70" stroke="#000" stroke-width="1.10" stroke-linecap="butt"/>
<line x1="29.50" y1="488.07" x2="31.50" y2="488.07" stroke="#000" stroke-width="1.10" stroke-linecap="butt"/>
<line x1="28.30" y1="466.45" x2="31.50" y2="466.45" stroke="#000" stroke-width="1.10" stroke-linecap="butt"/>
<line x1="29.50" y1="444.82" x2="31.50" y2="444.82" stroke="#000" stroke-width="1.10" stroke-linecap="butt"/>
<line x1="28.30" y1="423.20" x2="31.50" y2="423.20" stroke="#000" stroke-width="1.10" stroke-linecap="butt"/>
<line x1="29.50" y1="401.57" x2="31.50" y2="401.57" stroke="#000" stroke-width="1.10" stroke-linecap="butt"/>
<line x1="28.30" y1="379.95" x2="31.50" y2="379.95" stroke="#000" stroke-width="1.10" stroke-linecap="butt"/>
<line x1="29.50" y1="358.32" x2="31.50" y2="358.32" stroke="#000" stroke-width="1.10" stroke-linecap="butt"/>
<line x1="28.30" y1="336.70" x2="31.50" y2="336.70" stroke="#000" stroke-width="1.10" stroke-linecap="butt"/>
<line x1="29.50" y1="315.07" x2="31.50" y2="315.07" stroke="#000" stroke-width="1.10" stroke-linecap="butt"/>
<text x="25.50" y="512.20" font-family="Liberation Sans" font-size="8.90" font-weight="bold" fill="#111" text-anchor="end"  stroke="#111" stroke-width="0.05" textLength="11.30" lengthAdjust="spacingAndGlyphs">0.0</text>
<text x="25.50" y="468.95" font-family="Liberation Sans" font-size="8.90" font-weight="bold" fill="#111" text-anchor="end"  stroke="#111" stroke-width="0.05" textLength="11.30" lengthAdjust="spacingAndGlyphs">0.2</text>
<text x="25.50" y="425.70" font-family="Liberation Sans" font-size="8.90" font-weight="bold" fill="#111" text-anchor="end"  stroke="#111" stroke-width="0.05" textLength="11.30" lengthAdjust="spacingAndGlyphs">0.4</text>
<text x="25.50" y="382.45" font-family="Liberation Sans" font-size="8.90" font-weight="bold" fill="#111" text-anchor="end"  stroke="#111" stroke-width="0.05" textLength="11.30" lengthAdjust="spacingAndGlyphs">0.6</text>
<text x="25.50" y="339.20" font-family="Liberation Sans" font-size="8.90" font-weight="bold" fill="#111" text-anchor="end"  stroke="#111" stroke-width="0.05" textLength="11.30" lengthAdjust="spacingAndGlyphs">0.8</text>
<line x1="31.50" y1="509.70" x2="31.50" y2="512.90" stroke="#000" stroke-width="1.10" stroke-linecap="butt"/>
<line x1="77.80" y1="509.70" x2="77.80" y2="511.70" stroke="#000" stroke-width="1.10" stroke-linecap="butt"/>
<line x1="124.10" y1="509.70" x2="124.10" y2="512.90" stroke="#000" stroke-width="1.10" stroke-linecap="butt"/>
<line x1="170.40" y1="509.70" x2="170.40" y2="511.70" stroke="#000" stroke-width="1.10" stroke-linecap="butt"/>
<line x1="216.70" y1="509.70" x2="216.70" y2="512.90" stroke="#000" stroke-width="1.10" stroke-linecap="butt"/>
<line x1="263.00" y1="509.70" x2="263.00" y2="511.70" stroke="#000" stroke-width="1.10" stroke-linecap="butt"/>
<line x1="309.30" y1="509.70" x2="309.30" y2="512.90" stroke="#000" stroke-width="1.10" stroke-linecap="butt"/>
<text x="31.50" y="523.60" font-family="Liberation Sans" font-size="8.90" font-weight="bold" fill="#111" text-anchor="middle"  stroke="#111" stroke-width="0.05" textLength="13.10" lengthAdjust="spacingAndGlyphs">300</text>
<text x="124.10" y="523.60" font-family="Liberation Sans" font-size="8.90" font-weight="bold" fill="#111" text-anchor="middle"  stroke="#111" stroke-width="0.05" textLength="13.10" lengthAdjust="spacingAndGlyphs">400</text>
<text x="216.70" y="523.60" font-family="Liberation Sans" font-size="8.90" font-weight="bold" fill="#111" text-anchor="middle"  stroke="#111" stroke-width="0.05" textLength="13.10" lengthAdjust="spacingAndGlyphs">500</text>
<text x="309.30" y="523.60" font-family="Liberation Sans" font-size="8.90" font-weight="bold" fill="#111" text-anchor="middle"  stroke="#111" stroke-width="0.05" textLength="13.10" lengthAdjust="spacingAndGlyphs">600</text>
<text x="38.60" y="300.30" font-family="Liberation Sans" font-size="10.60" font-weight="bold" fill="#000" text-anchor="start"  stroke="#000" stroke-width="0.22">(C)</text>
<text x="0" y="0" transform="translate(7.60,405.70) rotate(-90)" font-family="Liberation Sans" font-size="10.30" font-weight="bold" fill="#111" stroke="#111" stroke-width="0.22" text-anchor="middle" dominant-baseline="central">Absorbance</text>
<text x="171.50" y="537.30" font-family="Liberation Sans" font-size="10.40" font-weight="bold" fill="#111" text-anchor="middle"  stroke="#111" stroke-width="0.22" textLength="78.60" lengthAdjust="spacingAndGlyphs">Wavelength (nm)</text>
<rect x="31.30" y="304.40" width="85.90" height="34.90" fill="#fff" stroke="#777" stroke-width="0.90"/>
<line x1="31.50" y1="304.30" x2="117.20" y2="304.30" stroke="#000" stroke-width="2.00" stroke-linecap="butt"/>
<line x1="31.80" y1="311.90" x2="52.10" y2="311.90" stroke="#ff1493" stroke-width="2.00" stroke-linecap="butt"/>
<text x="56.00" y="314.80" font-family="Liberation Sans" font-size="8.30" font-weight="bold" fill="#111" text-anchor="start"  stroke="#111" stroke-width="0.22">E122</text>
<line x1="31.80" y1="322.70" x2="52.10" y2="322.70" stroke="#ff0000" stroke-width="2.00" stroke-linecap="butt"/>
<text x="56.00" y="325.60" font-family="Liberation Sans" font-size="8.30" font-weight="bold" fill="#111" text-anchor="start"  stroke="#111" stroke-width="0.22">E124</text>
<line x1="31.80" y1="333.50" x2="52.10" y2="333.50" stroke="#800000" stroke-width="2.00" stroke-linecap="butt"/>
<text x="56.00" y="336.40" font-family="Liberation Sans" font-size="8.30" font-weight="bold" fill="#111" text-anchor="start"  stroke="#111" stroke-width="0.22">E122+E124 mix</text>
<line x1="28.30" y1="336.60" x2="31.50" y2="336.60" stroke="#000" stroke-width="1.10" stroke-linecap="butt"/>
<text x="171.90" y="317.60" font-family="Liberation Serif" font-size="10.00" font-weight="bold" fill="#111" text-anchor="middle" >508</text>
<text x="162.90" y="338.00" font-family="Liberation Serif" font-size="10.00" font-weight="bold" fill="#111" text-anchor="middle" >518</text>
<text x="284.30" y="325.60" font-family="Liberation Serif" font-size="10.00" font-weight="bold" fill="#111" text-anchor="middle" >518</text>
<line x1="184.70" y1="315.60" x2="211.34" y2="327.38" stroke="#000" stroke-width="0.70" stroke-linecap="butt"/>
<path d="M215.00,329.00 L210.69,328.85 L211.99,325.92 Z" fill="#000"/>
<line x1="174.90" y1="333.30" x2="228.21" y2="336.46" stroke="#000" stroke-width="0.70" stroke-linecap="butt"/>
<path d="M232.20,336.70 L228.11,338.06 L228.30,334.87 Z" fill="#000"/>
<line x1="274.10" y1="322.30" x2="243.75" y2="326.90" stroke="#000" stroke-width="0.70" stroke-linecap="butt"/>
<path d="M239.80,327.50 L243.51,325.32 L243.99,328.48 Z" fill="#000"/>
<path d="M393.5,500.0 C394.0,497.3 395.5,489.2 396.5,484.0 C397.5,478.8 398.5,473.1 399.6,468.7 C400.7,464.3 401.9,460.9 403.0,457.5 C404.1,454.1 405.1,451.1 406.1,448.0 C407.2,444.9 408.2,441.8 409.3,438.7 C410.4,435.6 411.8,431.8 413.0,429.5 C414.2,427.2 415.3,426.0 416.7,424.9 C418.1,423.8 419.9,423.2 421.3,423.0 C422.7,422.8 423.8,423.0 425.0,423.5 C426.2,424.0 427.5,424.9 428.7,425.8 C429.9,426.7 431.0,427.7 432.4,429.0 C433.8,430.3 435.6,432.3 437.1,433.6 C438.7,434.9 439.9,436.0 441.7,436.9 C443.5,437.8 445.9,438.6 448.0,439.2 C450.1,439.8 452.0,439.6 454.1,440.7 C456.2,441.8 458.7,444.6 460.7,445.9 C462.7,447.2 464.0,447.7 466.0,448.3 C468.0,448.9 470.6,449.0 472.6,449.6 C474.6,450.2 476.0,451.0 478.0,452.0 C480.0,453.0 482.5,454.4 484.4,455.6 C486.3,456.9 487.8,458.1 489.5,459.5 C491.2,460.9 493.1,462.0 494.8,463.7 C496.6,465.4 498.4,467.8 500.0,469.7 C501.6,471.6 502.8,475.2 504.3,474.8 C505.8,474.4 507.4,469.3 509.0,467.0 C510.6,464.7 512.5,463.2 514.1,461.0 C515.8,458.8 517.2,455.8 518.9,454.0 C520.6,452.2 522.7,450.6 524.4,450.4 C526.1,450.2 527.4,451.1 528.9,452.6 C530.4,454.1 531.8,458.6 533.3,459.3 C534.8,460.0 536.4,457.9 538.0,457.0 C539.6,456.1 540.5,455.0 543.2,454.0 C545.9,453.0 550.9,451.5 554.0,450.8 C557.1,450.1 559.2,449.7 562.1,450.0 C565.0,450.3 568.5,450.2 571.6,452.7 C574.8,455.2 577.6,460.1 581.0,464.8 C584.4,469.5 588.2,476.5 591.8,481.0 C595.4,485.5 598.7,489.1 602.6,491.8 C606.5,494.5 611.4,495.9 615.0,497.2 C618.6,498.5 620.6,499.1 624.5,499.6 C628.4,500.1 631.8,500.2 638.6,500.4 C645.4,500.6 660.7,500.8 665.1,500.9" fill="none" stroke="#ff9510" stroke-width="1.90" stroke-linejoin="round" stroke-linecap="round"/>
<path d="M391.7,433.2 C392.2,432.1 393.4,429.0 394.5,426.7 C395.6,424.4 397.0,421.6 398.2,419.3 C399.4,417.0 400.5,414.9 401.9,412.8 C403.3,410.7 405.0,408.3 406.5,406.8 C408.0,405.3 409.7,404.3 411.1,403.7 C412.5,403.1 413.6,403.1 414.9,403.3 C416.1,403.5 417.4,404.1 418.6,404.9 C419.8,405.7 421.1,406.9 422.3,408.2 C423.5,409.5 424.8,411.2 426.0,412.8 C427.2,414.4 428.5,416.4 429.7,417.9 C430.9,419.4 432.2,420.5 433.4,421.6 C434.6,422.7 435.7,423.5 437.1,424.4 C438.5,425.3 439.9,426.0 441.7,427.2 C443.5,428.4 446.3,430.2 448.0,431.3 C449.7,432.4 450.1,433.1 452.0,433.8 C453.9,434.5 457.1,435.3 459.3,435.6 C461.5,435.9 463.0,435.6 465.0,435.5 C467.0,435.4 468.9,434.3 471.1,434.8 C473.4,435.3 475.8,436.1 478.5,438.5 C481.2,440.9 485.0,446.2 487.4,448.9 C489.8,451.6 491.0,452.9 493.0,454.5 C495.0,456.1 497.5,457.9 499.3,458.5 C501.1,459.1 502.3,458.5 504.0,458.0 C505.7,457.5 507.6,456.4 509.6,455.6 C511.6,454.8 513.8,453.9 516.0,453.0 C518.2,452.1 520.4,451.6 523.0,450.4 C525.6,449.2 529.1,447.8 531.9,445.9 C534.7,444.0 537.6,441.2 540.0,439.3 C542.4,437.4 544.1,436.1 546.0,434.5 C547.9,432.9 549.4,432.0 551.1,429.5 C552.8,427.0 554.4,423.5 556.3,419.6 C558.1,415.7 560.2,410.2 562.2,406.3 C564.2,402.4 566.1,399.1 568.1,395.9 C570.1,392.7 572.1,389.5 574.1,387.0 C576.1,384.5 578.3,382.7 580.0,381.1 C581.7,379.5 582.9,378.6 584.4,377.4 C585.9,376.2 587.3,375.3 588.9,373.7 C590.5,372.1 592.4,369.5 594.1,367.8 C595.8,366.1 597.6,364.7 599.1,363.7 C600.6,362.7 601.6,361.4 603.1,361.6 C604.6,361.8 606.5,363.0 608.2,364.7 C609.9,366.4 611.6,368.6 613.3,371.8 C615.0,375.0 616.7,379.2 618.4,384.0 C620.1,388.8 622.1,395.7 623.5,400.3 C624.9,404.9 625.9,408.1 627.0,411.5 C628.1,414.9 629.1,417.5 630.0,420.5 C630.9,423.5 631.4,426.2 632.3,429.5 C633.2,432.8 634.3,436.8 635.5,440.5 C636.7,444.2 637.9,448.1 639.4,451.5 C640.9,454.9 642.5,458.4 644.2,461.0 C645.9,463.6 647.7,465.7 649.7,467.3 C651.7,468.9 653.4,469.6 656.0,470.4 C658.6,471.2 663.6,471.7 665.1,472.0" fill="none" stroke="#ee4b55" stroke-width="1.90" stroke-linejoin="round" stroke-linecap="round"/>
<path d="M391.7,409.8 C392.3,408.3 394.2,403.5 395.4,400.6 C396.6,397.7 397.9,394.8 399.1,392.2 C400.3,389.6 401.6,387.2 402.8,385.3 C404.0,383.4 405.3,381.6 406.5,380.6 C407.7,379.6 408.6,379.3 409.8,379.4 C411.0,379.5 412.6,380.2 413.9,381.1 C415.2,382.0 416.4,383.3 417.6,384.8 C418.8,386.3 420.1,388.0 421.3,389.9 C422.5,391.8 423.8,394.0 425.0,395.9 C426.2,397.8 427.5,400.0 428.7,401.5 C429.9,403.0 431.2,404.2 432.4,405.0 C433.6,405.8 434.7,406.1 436.1,406.1 C437.5,406.1 439.2,405.8 440.8,405.2 C442.4,404.6 444.1,403.2 446.0,402.6 C447.9,402.0 449.7,401.7 451.9,401.6 C454.1,401.5 456.5,401.8 459.0,402.0 C461.5,402.2 463.4,402.5 466.7,403.0 C469.9,403.5 475.1,403.7 478.5,405.2 C481.9,406.7 484.4,409.3 487.4,411.9 C490.4,414.5 493.3,418.5 496.3,420.7 C499.3,422.9 501.8,424.9 505.2,425.2 C508.6,425.4 513.0,423.1 517.0,422.2 C521.0,421.3 525.1,420.6 528.9,420.0 C532.7,419.4 536.9,419.4 540.0,418.9 C543.1,418.3 544.9,417.7 547.4,416.7 C549.9,415.7 552.3,414.6 554.8,413.0 C557.3,411.4 559.7,409.4 562.2,407.0 C564.7,404.6 567.1,401.7 569.6,398.9 C572.1,396.1 574.5,393.0 577.0,390.0 C579.5,387.0 581.9,383.8 584.4,381.1 C586.9,378.4 590.1,375.5 591.9,373.7 C593.7,371.9 593.5,371.9 595.0,370.2 C596.5,368.5 598.9,365.3 601.1,363.7 C603.3,362.1 605.8,360.8 608.2,360.6 C610.6,360.4 612.9,361.2 615.4,362.6 C617.9,364.0 620.8,366.2 623.5,368.8 C626.2,371.4 629.2,375.0 631.6,377.9 C634.0,380.8 635.7,382.6 637.7,386.0 C639.7,389.4 641.8,394.2 643.8,398.3 C645.8,402.4 648.3,407.4 649.9,410.5 C651.5,413.6 652.2,414.6 653.5,417.0 C654.8,419.4 656.1,422.6 657.6,424.7 C659.1,426.8 661.0,428.4 662.3,429.5 C663.5,430.6 664.6,431.0 665.1,431.3" fill="none" stroke="#8b1a1a" stroke-width="1.90" stroke-linejoin="round" stroke-linecap="round"/>
<path d="M391.5,393.0 C391.6,392.6 391.8,393.2 392.4,390.6 C393.0,388.0 394.4,381.1 395.4,377.2 C396.4,373.2 397.4,370.1 398.4,366.9 C399.4,363.7 400.2,360.9 401.3,358.0 C402.4,355.1 403.6,352.7 405.0,349.8 C406.4,346.9 408.4,342.9 409.5,340.9 C410.6,338.9 411.0,338.7 411.7,338.0 C412.4,337.3 413.0,337.5 413.9,336.5 C414.8,335.5 415.8,333.7 416.9,332.0 C418.0,330.3 419.4,327.3 420.6,326.1 C421.8,324.9 423.2,324.5 424.3,324.6 C425.4,324.7 426.3,325.9 427.3,326.9 C428.3,327.9 429.1,329.2 430.2,330.6 C431.3,332.0 432.5,333.9 433.9,335.0 C435.3,336.1 436.9,336.7 438.4,337.2 C439.9,337.7 441.6,337.7 442.8,338.0 C444.0,338.3 444.5,338.1 445.5,338.8 C446.5,339.5 447.8,340.2 448.9,342.1 C450.0,344.0 451.2,347.1 452.2,350.0 C453.2,352.9 454.0,355.7 454.9,359.2 C455.8,362.7 456.6,367.3 457.5,371.0 C458.4,374.7 459.2,378.6 460.1,381.5 C461.0,384.4 461.9,386.8 462.7,388.1 C463.5,389.4 463.9,389.3 464.7,389.1 C465.5,388.9 466.3,388.3 467.3,386.8 C468.3,385.3 469.5,382.8 470.6,380.2 C471.7,377.6 472.7,374.1 473.9,371.0 C475.1,367.9 476.5,365.1 477.8,361.8 C479.1,358.5 480.7,353.9 481.8,351.3 C482.9,348.7 483.6,347.0 484.4,346.0 C485.2,345.0 485.5,344.8 486.4,345.4 C487.3,345.9 488.7,348.3 489.7,349.3 C490.7,350.3 491.4,351.3 492.3,351.3 C493.2,351.3 494.0,350.6 494.9,349.3 C495.8,348.0 496.8,345.7 497.6,343.4 C498.4,341.1 499.2,336.4 499.9,335.5 C500.5,334.6 501.0,336.4 501.5,338.1 C502.0,339.9 502.2,342.3 502.8,346.0 C503.4,349.7 504.2,355.7 504.8,360.5 C505.4,365.3 505.9,371.5 506.5,374.9 C507.1,378.3 507.5,380.8 508.1,380.8 C508.7,380.8 509.2,376.5 510.0,374.9 C510.8,373.3 511.7,371.9 512.7,371.0 C513.7,370.1 514.9,369.6 516.0,369.7 C517.1,369.8 518.2,370.3 519.2,371.6 C520.2,372.9 521.0,375.3 521.9,377.6 C522.8,379.9 523.6,382.6 524.5,385.4 C525.4,388.2 526.2,391.2 527.1,394.6 C528.0,398.0 529.0,402.1 530.0,405.5 C531.0,408.9 532.0,412.3 533.0,415.0 C534.0,417.7 534.8,419.6 536.0,421.5 C537.2,423.4 538.4,425.2 540.0,426.3 C541.6,427.4 543.9,427.9 545.9,427.8 C547.9,427.7 549.9,427.0 551.9,425.6 C553.9,424.2 555.8,422.3 557.8,419.6 C559.8,416.9 561.7,413.0 563.7,409.3 C565.7,405.6 567.6,401.6 569.6,397.4 C571.6,393.2 573.8,388.8 575.6,384.1 C577.5,379.4 579.0,374.0 580.7,369.3 C582.4,364.6 584.4,359.5 585.9,355.9 C587.4,352.3 588.5,350.1 590.0,347.5 C591.5,344.9 593.5,342.4 595.0,340.3 C596.5,338.2 597.6,336.6 599.1,335.2 C600.6,333.8 602.5,332.3 604.2,332.1 C605.9,331.9 607.7,333.0 609.2,334.2 C610.7,335.4 612.1,337.5 613.3,339.2 C614.5,340.9 615.6,342.9 616.4,344.3 C617.1,345.7 617.4,345.5 617.8,347.4 C618.2,349.3 618.6,352.4 619.0,355.5 C619.4,358.6 619.8,362.0 620.4,365.7 C621.0,369.4 621.8,374.0 622.5,377.9 C623.2,381.8 623.8,386.7 624.5,389.1 C625.2,391.5 625.8,391.2 626.5,392.2 C627.2,393.2 627.8,393.2 628.6,395.2 C629.5,397.2 630.4,400.8 631.6,404.4 C632.8,408.0 634.5,412.7 635.7,416.6 C636.9,420.5 638.1,425.3 639.0,428.0 C639.9,430.7 640.0,429.5 641.0,432.6 C642.0,435.7 643.4,442.3 644.9,446.8 C646.4,451.3 648.1,455.7 649.7,459.4 C651.3,463.1 652.7,466.1 654.4,468.9 C656.1,471.7 658.1,474.0 659.9,476.0 C661.7,478.0 664.2,479.9 665.1,480.7" fill="none" stroke="#b8651e" stroke-width="1.90" stroke-linejoin="round" stroke-linecap="round"/>
<line x1="391.50" y1="308.50" x2="665.00" y2="308.50" stroke="#000" stroke-width="1.40" stroke-linecap="butt"/>
<line x1="665.00" y1="308.50" x2="665.00" y2="511.60" stroke="#000" stroke-width="1.40" stroke-linecap="butt"/>
<line x1="391.50" y1="511.60" x2="665.70" y2="511.60" stroke="#000" stroke-width="1.40" stroke-linecap="butt"/>
<line x1="391.50" y1="307.80" x2="391.50" y2="512.30" stroke="#3a0d0d" stroke-width="1.40" stroke-linecap="butt"/>
<line x1="389.50" y1="313.20" x2="391.50" y2="313.20" stroke="#9b1a1a" stroke-width="1.30" stroke-linecap="butt"/>
<line x1="387.90" y1="322.69" x2="391.50" y2="322.69" stroke="#9b1a1a" stroke-width="1.30" stroke-linecap="butt"/>
<line x1="389.50" y1="332.18" x2="391.50" y2="332.18" stroke="#9b1a1a" stroke-width="1.30" stroke-linecap="butt"/>
<line x1="387.90" y1="341.67" x2="391.50" y2="341.67" stroke="#9b1a1a" stroke-width="1.30" stroke-linecap="butt"/>
<line x1="389.50" y1="351.16" x2="391.50" y2="351.16" stroke="#9b1a1a" stroke-width="1.30" stroke-linecap="butt"/>
<line x1="387.90" y1="360.65" x2="391.50" y2="360.65" stroke="#9b1a1a" stroke-width="1.30" stroke-linecap="butt"/>
<line x1="389.50" y1="370.14" x2="391.50" y2="370.14" stroke="#9b1a1a" stroke-width="1.30" stroke-linecap="butt"/>
<line x1="387.90" y1="379.63" x2="391.50" y2="379.63" stroke="#9b1a1a" stroke-width="1.30" stroke-linecap="butt"/>
<line x1="389.50" y1="389.12" x2="391.50" y2="389.12" stroke="#9b1a1a" stroke-width="1.30" stroke-linecap="butt"/>
<line x1="387.90" y1="398.61" x2="391.50" y2="398.61" stroke="#9b1a1a" stroke-width="1.30" stroke-linecap="butt"/>
<line x1="389.50" y1="408.10" x2="391.50" y2="408.10" stroke="#9b1a1a" stroke-width="1.30" stroke-linecap="butt"/>
<line x1="387.90" y1="417.59" x2="391.50" y2="417.59" stroke="#9b1a1a" stroke-width="1.30" stroke-linecap="butt"/>
<line x1="389.50" y1="427.08" x2="391.50" y2="427.08" stroke="#9b1a1a" stroke-width="1.30" stroke-linecap="butt"/>
<line x1="387.90" y1="436.57" x2="391.50" y2="436.57" stroke="#9b1a1a" stroke-width="1.30" stroke-linecap="butt"/>
<line x1="389.50" y1="446.06" x2="391.50" y2="446.06" stroke="#9b1a1a" stroke-width="1.30" stroke-linecap="butt"/>
<line x1="387.90" y1="455.55" x2="391.50" y2="455.55" stroke="#9b1a1a" stroke-width="1.30" stroke-linecap="butt"/>
<line x1="389.50" y1="465.04" x2="391.50" y2="465.04" stroke="#9b1a1a" stroke-width="1.30" stroke-linecap="butt"/>
<line x1="387.90" y1="474.53" x2="391.50" y2="474.53" stroke="#9b1a1a" stroke-width="1.30" stroke-linecap="butt"/>
<line x1="389.50" y1="484.02" x2="391.50" y2="484.02" stroke="#9b1a1a" stroke-width="1.30" stroke-linecap="butt"/>
<line x1="387.90" y1="493.51" x2="391.50" y2="493.51" stroke="#9b1a1a" stroke-width="1.30" stroke-linecap="butt"/>
<line x1="389.50" y1="503.00" x2="391.50" y2="503.00" stroke="#9b1a1a" stroke-width="1.30" stroke-linecap="butt"/>
<text x="387.70" y="311.30" font-family="Liberation Sans" font-size="8.70" font-weight="bold" fill="#111" text-anchor="end"  stroke="#111" stroke-width="0.05" textLength="10.90" lengthAdjust="spacingAndGlyphs">2.0</text>
<text x="387.70" y="332.00" font-family="Liberation Sans" font-size="8.70" font-weight="bold" fill="#111" text-anchor="end"  stroke="#111" stroke-width="0.05" textLength="10.90" lengthAdjust="spacingAndGlyphs">1.8</text>
<text x="387.70" y="353.00" font-family="Liberation Sans" font-size="8.70" font-weight="bold" fill="#111" text-anchor="end"  stroke="#111" stroke-width="0.05" textLength="10.90" lengthAdjust="spacingAndGlyphs">1.6</text>
<text x="387.70" y="373.00" font-family="Liberation Sans" font-size="8.70" font-weight="bold" fill="#111" text-anchor="end"  stroke="#111" stroke-width="0.05" textLength="10.90" lengthAdjust="spacingAndGlyphs">1.4</text>
<text x="387.70" y="393.00" font-family="Liberation Sans" font-size="8.70" font-weight="bold" fill="#111" text-anchor="end"  stroke="#111" stroke-width="0.05" textLength="10.90" lengthAdjust="spacingAndGlyphs">1.2</text>
<text x="387.70" y="413.00" font-family="Liberation Sans" font-size="8.70" font-weight="bold" fill="#111" text-anchor="end"  stroke="#111" stroke-width="0.05" textLength="10.90" lengthAdjust="spacingAndGlyphs">1.0</text>
<text x="387.70" y="433.50" font-family="Liberation Sans" font-size="8.70" font-weight="bold" fill="#111" text-anchor="end"  stroke="#111" stroke-width="0.05" textLength="10.90" lengthAdjust="spacingAndGlyphs">0.8</text>
<text x="387.70" y="454.00" font-family="Liberation Sans" font-size="8.70" font-weight="bold" fill="#111" text-anchor="end"  stroke="#111" stroke-width="0.05" textLength="10.90" lengthAdjust="spacingAndGlyphs">0.6</text>
<text x="387.70" y="474.20" font-family="Liberation Sans" font-size="8.70" font-weight="bold" fill="#111" text-anchor="end"  stroke="#111" stroke-width="0.05" textLength="10.90" lengthAdjust="spacingAndGlyphs">0.4</text>
<text x="387.70" y="495.00" font-family="Liberation Sans" font-size="8.70" font-weight="bold" fill="#111" text-anchor="end"  stroke="#111" stroke-width="0.05" textLength="10.90" lengthAdjust="spacingAndGlyphs">0.2</text>
<text x="387.70" y="515.00" font-family="Liberation Sans" font-size="8.70" font-weight="bold" fill="#111" text-anchor="end"  stroke="#111" stroke-width="0.05" textLength="10.90" lengthAdjust="spacingAndGlyphs">0.0</text>
<line x1="391.50" y1="511.60" x2="391.50" y2="514.60" stroke="#000" stroke-width="1.10" stroke-linecap="butt"/>
<line x1="408.60" y1="511.60" x2="408.60" y2="513.60" stroke="#000" stroke-width="1.10" stroke-linecap="butt"/>
<line x1="425.69" y1="511.60" x2="425.69" y2="514.60" stroke="#000" stroke-width="1.10" stroke-linecap="butt"/>
<line x1="442.78" y1="511.60" x2="442.78" y2="513.60" stroke="#000" stroke-width="1.10" stroke-linecap="butt"/>
<line x1="459.88" y1="511.60" x2="459.88" y2="514.60" stroke="#000" stroke-width="1.10" stroke-linecap="butt"/>
<line x1="476.98" y1="511.60" x2="476.98" y2="513.60" stroke="#000" stroke-width="1.10" stroke-linecap="butt"/>
<line x1="494.07" y1="511.60" x2="494.07" y2="514.60" stroke="#000" stroke-width="1.10" stroke-linecap="butt"/>
<line x1="511.16" y1="511.60" x2="511.16" y2="513.60" stroke="#000" stroke-width="1.10" stroke-linecap="butt"/>
<line x1="528.26" y1="511.60" x2="528.26" y2="514.60" stroke="#000" stroke-width="1.10" stroke-linecap="butt"/>
<line x1="545.36" y1="511.60" x2="545.36" y2="513.60" stroke="#000" stroke-width="1.10" stroke-linecap="butt"/>
<line x1="562.45" y1="511.60" x2="562.45" y2="514.60" stroke="#000" stroke-width="1.10" stroke-linecap="butt"/>
<line x1="579.54" y1="511.60" x2="579.54" y2="513.60" stroke="#000" stroke-width="1.10" stroke-linecap="butt"/>
<line x1="596.64" y1="511.60" x2="596.64" y2="514.60" stroke="#000" stroke-width="1.10" stroke-linecap="butt"/>
<line x1="613.74" y1="511.60" x2="613.74" y2="513.60" stroke="#000" stroke-width="1.10" stroke-linecap="butt"/>
<line x1="630.83" y1="511.60" x2="630.83" y2="514.60" stroke="#000" stroke-width="1.10" stroke-linecap="butt"/>
<line x1="647.92" y1="511.60" x2="647.92" y2="513.60" stroke="#000" stroke-width="1.10" stroke-linecap="butt"/>
<line x1="665.02" y1="511.60" x2="665.02" y2="514.60" stroke="#000" stroke-width="1.10" stroke-linecap="butt"/>
<text x="392.30" y="525.40" font-family="Liberation Sans" font-size="8.70" font-weight="bold" fill="#111" text-anchor="middle"  stroke="#111" stroke-width="0.05" textLength="12.40" lengthAdjust="spacingAndGlyphs">200</text>
<text x="426.39" y="525.40" font-family="Liberation Sans" font-size="8.70" font-weight="bold" fill="#111" text-anchor="middle"  stroke="#111" stroke-width="0.05" textLength="12.40" lengthAdjust="spacingAndGlyphs">250</text>
<text x="460.48" y="525.40" font-family="Liberation Sans" font-size="8.70" font-weight="bold" fill="#111" text-anchor="middle"  stroke="#111" stroke-width="0.05" textLength="12.40" lengthAdjust="spacingAndGlyphs">300</text>
<text x="494.57" y="525.40" font-family="Liberation Sans" font-size="8.70" font-weight="bold" fill="#111" text-anchor="middle"  stroke="#111" stroke-width="0.05" textLength="12.40" lengthAdjust="spacingAndGlyphs">350</text>
<text x="528.66" y="525.40" font-family="Liberation Sans" font-size="8.70" font-weight="bold" fill="#111" text-anchor="middle"  stroke="#111" stroke-width="0.05" textLength="12.40" lengthAdjust="spacingAndGlyphs">400</text>
<text x="562.75" y="525.40" font-family="Liberation Sans" font-size="8.70" font-weight="bold" fill="#111" text-anchor="middle"  stroke="#111" stroke-width="0.05" textLength="12.40" lengthAdjust="spacingAndGlyphs">450</text>
<text x="596.84" y="525.40" font-family="Liberation Sans" font-size="8.70" font-weight="bold" fill="#111" text-anchor="middle"  stroke="#111" stroke-width="0.05" textLength="12.40" lengthAdjust="spacingAndGlyphs">500</text>
<text x="630.93" y="525.40" font-family="Liberation Sans" font-size="8.70" font-weight="bold" fill="#111" text-anchor="middle"  stroke="#111" stroke-width="0.05" textLength="12.40" lengthAdjust="spacingAndGlyphs">550</text>
<text x="665.02" y="525.40" font-family="Liberation Sans" font-size="8.70" font-weight="bold" fill="#111" text-anchor="middle"  stroke="#111" stroke-width="0.05" textLength="12.40" lengthAdjust="spacingAndGlyphs">600</text>
<text x="399.30" y="302.30" font-family="Liberation Sans" font-size="12.20" font-weight="bold" fill="#000" text-anchor="start"  stroke="#000" stroke-width="0.22">(d)</text>
<text x="0" y="0" transform="translate(371.40,410.30) rotate(-90)" font-family="Liberation Sans" font-size="10.10" font-weight="bold" fill="#111" stroke="#111" stroke-width="0.22" text-anchor="middle" dominant-baseline="central">Absorbance</text>
<text x="532.20" y="537.30" font-family="Liberation Sans" font-size="10.30" font-weight="bold" fill="#111" text-anchor="middle"  stroke="#111" stroke-width="0.22" textLength="76.30" lengthAdjust="spacingAndGlyphs">Wavelength (nm)</text>
<rect x="391.50" y="468.80" width="84.00" height="39.20" fill="#fff" stroke="#111" stroke-width="1.40"/>
<line x1="388.50" y1="474.40" x2="408.80" y2="474.40" stroke="#8b1a1a" stroke-width="1.90" stroke-linecap="butt"/>
<text x="410.30" y="476.60" font-family="Liberation Sans" font-size="5.90" font-weight="bold" fill="#222" text-anchor="start"  stroke="#222" stroke-width="0.22">E122</text>
<line x1="388.50" y1="484.00" x2="408.80" y2="484.00" stroke="#ee4b55" stroke-width="1.90" stroke-linecap="butt"/>
<text x="410.30" y="486.20" font-family="Liberation Sans" font-size="5.90" font-weight="bold" fill="#222" text-anchor="start"  stroke="#222" stroke-width="0.22">E124</text>
<line x1="388.50" y1="493.60" x2="408.80" y2="493.60" stroke="#ff9510" stroke-width="1.90" stroke-linecap="butt"/>
<text x="410.30" y="495.80" font-family="Liberation Sans" font-size="5.90" font-weight="bold" fill="#222" text-anchor="start"  stroke="#222" stroke-width="0.22">Cr (VI)</text>
<line x1="388.50" y1="503.20" x2="408.80" y2="503.20" stroke="#b8651e" stroke-width="1.90" stroke-linecap="butt"/>
<text x="410.30" y="505.40" font-family="Liberation Sans" font-size="5.90" font-weight="bold" fill="#222" text-anchor="start"  stroke="#222" stroke-width="0.22">E122+ E124+ Cr(VI) mix</text>
<line x1="391.50" y1="307.80" x2="391.50" y2="512.30" stroke="#3a0d0d" stroke-width="1.40" stroke-linecap="butt"/>
<text x="587.70" y="325.30" font-family="Liberation Sans" font-size="9.60" font-weight="bold" fill="#111" text-anchor="middle"  stroke="#111" stroke-width="0.22">512</text>
<text x="531.70" y="365.40" font-family="Liberation Sans" font-size="9.60" font-weight="bold" fill="#111" text-anchor="middle"  stroke="#111" stroke-width="0.22">381</text>
<text x="566.30" y="368.10" font-family="Liberation Sans" font-size="9.60" font-weight="bold" fill="#111" text-anchor="middle"  stroke="#111" stroke-width="0.22">507</text>
<text x="645.40" y="373.80" font-family="Liberation Sans" font-size="9.60" font-weight="bold" fill="#111" text-anchor="middle"  stroke="#111" stroke-width="0.22">517</text>
<text x="506.50" y="441.50" font-family="Liberation Sans" font-size="9.60" font-weight="bold" fill="#111" text-anchor="middle"  stroke="#111" stroke-width="0.22">396</text>
<text x="578.00" y="434.30" font-family="Liberation Sans" font-size="9.60" font-weight="bold" fill="#111" text-anchor="middle"  stroke="#111" stroke-width="0.22">427</text>
<line x1="594.30" y1="327.00" x2="600.18" y2="329.33" stroke="#000" stroke-width="0.70" stroke-linecap="butt"/>
<path d="M603.90,330.80 L599.59,330.82 L600.77,327.84 Z" fill="#000"/>
<line x1="528.10" y1="366.20" x2="522.00" y2="369.57" stroke="#000" stroke-width="0.70" stroke-linecap="butt"/>
<path d="M518.50,371.50 L521.23,368.17 L522.78,370.97 Z" fill="#000"/>
<line x1="581.10" y1="361.40" x2="593.90" y2="360.79" stroke="#000" stroke-width="0.70" stroke-linecap="butt"/>
<path d="M597.90,360.60 L593.98,362.39 L593.83,359.19 Z" fill="#000"/>
<line x1="637.70" y1="363.90" x2="621.35" y2="361.24" stroke="#000" stroke-width="0.70" stroke-linecap="butt"/>
<path d="M617.40,360.60 L621.60,359.66 L621.09,362.82 Z" fill="#000"/>
<line x1="512.20" y1="443.20" x2="519.62" y2="447.87" stroke="#000" stroke-width="0.70" stroke-linecap="butt"/>
<path d="M523.00,450.00 L518.76,449.22 L520.47,446.51 Z" fill="#000"/>
<line x1="572.90" y1="437.30" x2="560.59" y2="447.46" stroke="#000" stroke-width="0.70" stroke-linecap="butt"/>
<path d="M557.50,450.00 L559.57,446.22 L561.60,448.69 Z" fill="#000"/>
</svg>
</body></html>
